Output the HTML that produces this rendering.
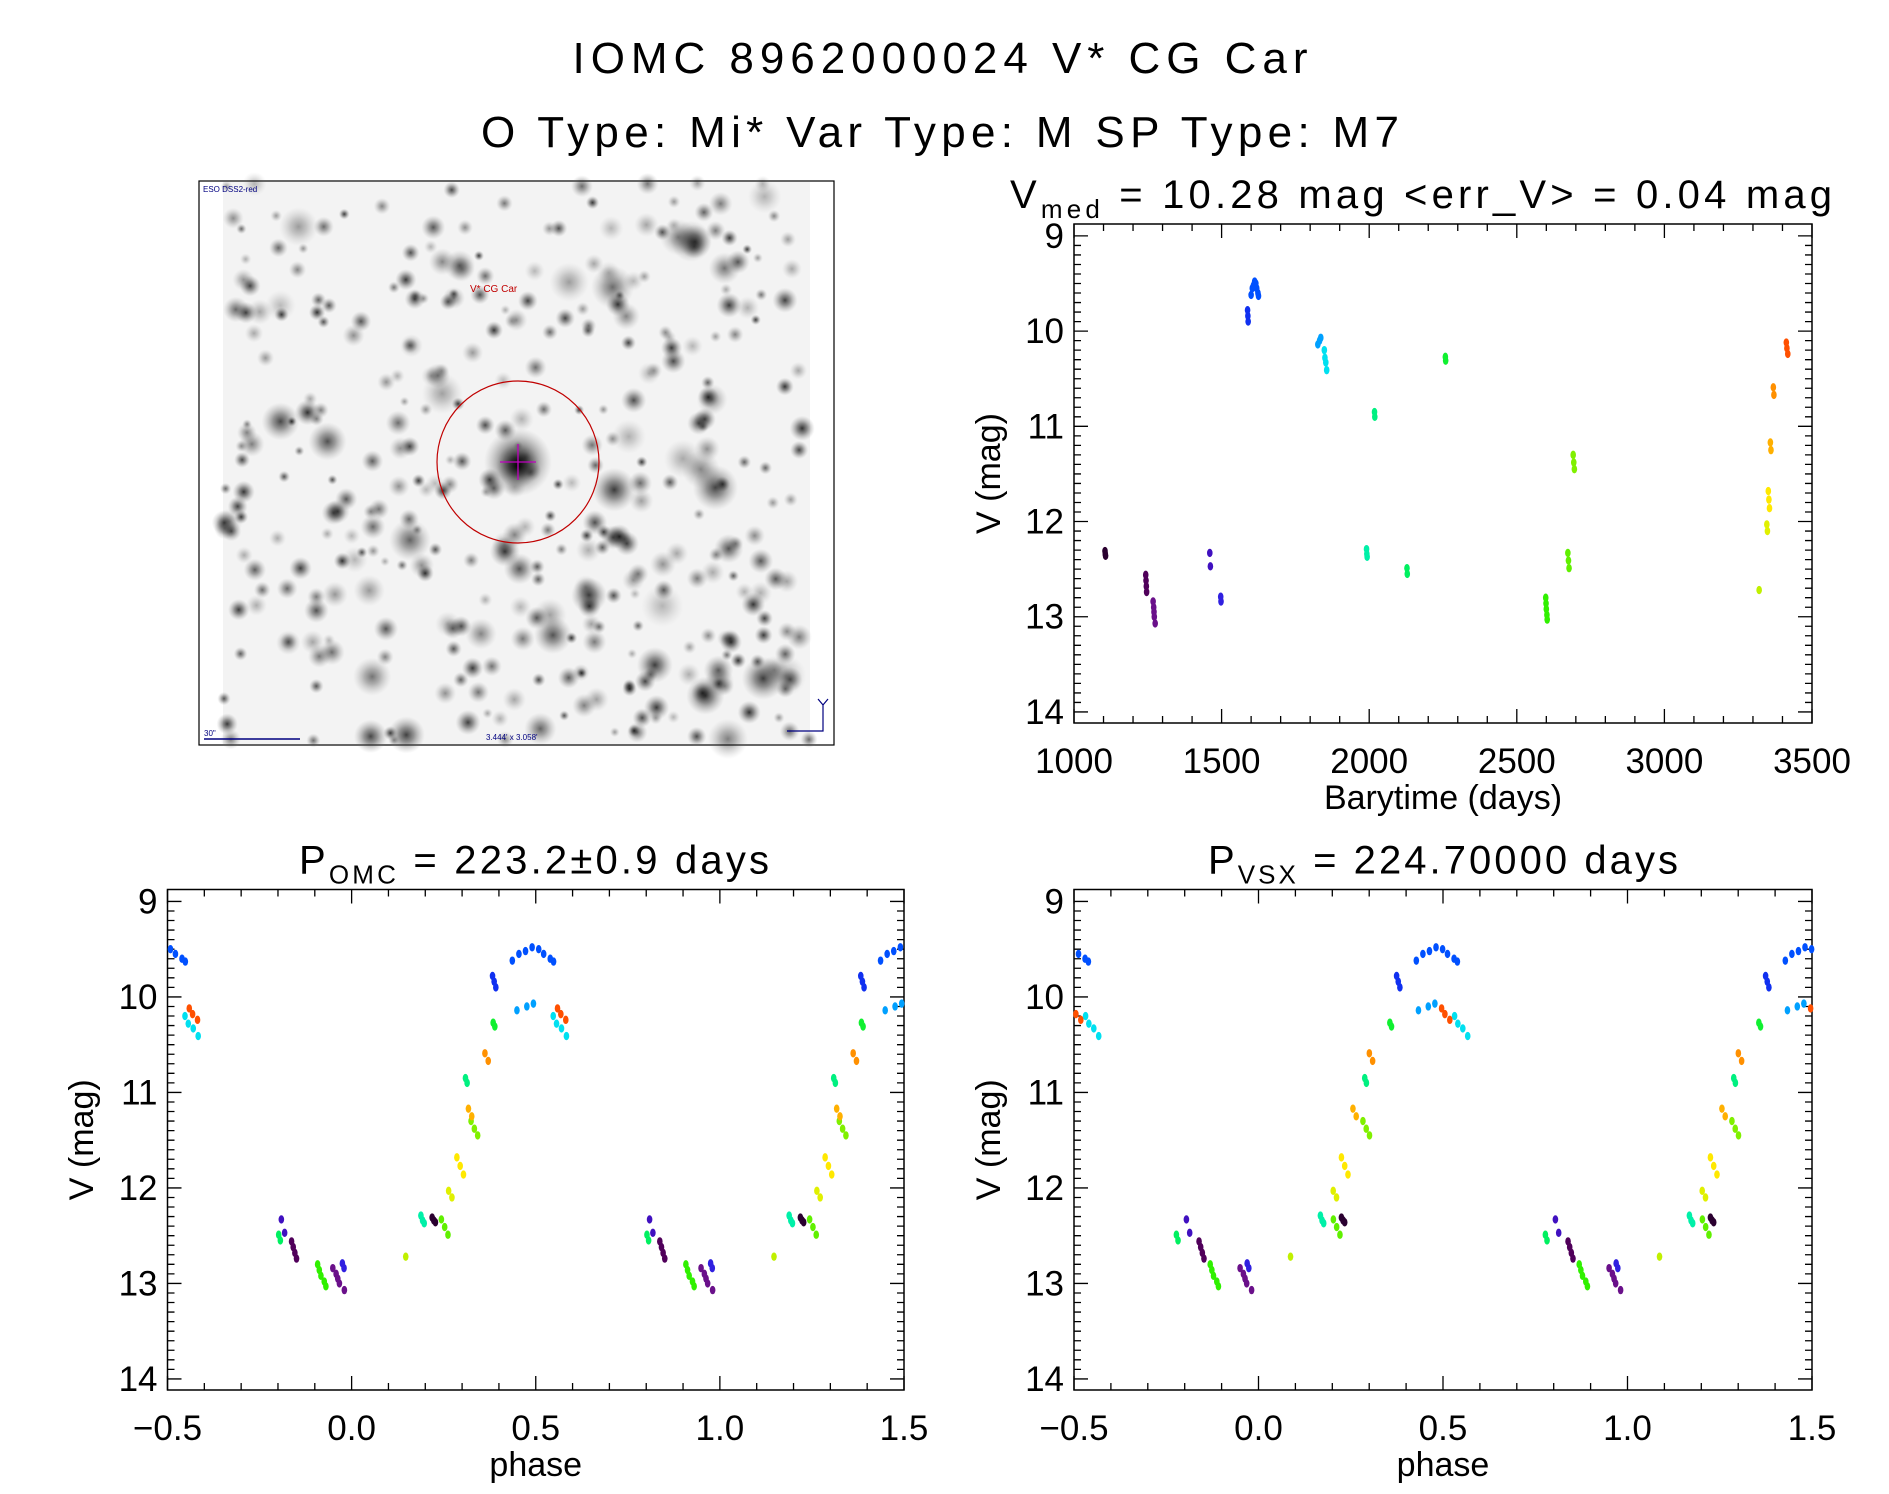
<!DOCTYPE html>
<html><head><meta charset="utf-8"><style>
html,body{margin:0;padding:0;background:#fff;}
svg{display:block;font-family:"Liberation Sans",sans-serif;}
</style></head><body>
<svg id="root" width="1889" height="1494" viewBox="0 0 1889 1494">
<text x="940" y="73" font-size="44" text-anchor="middle" textLength="735" lengthAdjust="spacing">IOMC 8962000024   V* CG Car</text>
<text x="940" y="147" font-size="44" text-anchor="middle" textLength="918" lengthAdjust="spacing">O Type: Mi*  Var Type: M  SP Type: M7</text>
<g id="img"></g>
<g id="p1"></g>
<g id="p2"></g>
<g id="p3"></g>
</svg>
<script>
// ---- data ----
const times = [1105,1106,1107, 1243,1244,1245,1246, 1268,1270,1271,1272,1275, 1460,1462, 1497,1498, 1588,1589,1590,
 1600,1604,1608,1612,1616,1619,1623,1625, 1826,1832,1836, 1848,1850,1853,1856, 1991,1992,1993, 2018,2019, 2128,2129,
 2258,2259, 2598,2599,2600,2602,2603, 2673,2675,2677, 2691,2693,2695, 3321, 3347,3349, 3352,3354,3356, 3359,3361,
 3369,3371, 3413,3415,3418];
const mags = [12.31,12.34,12.36, 12.56,12.62,12.68,12.74, 12.84,12.90,12.95,13.00,13.07, 12.33,12.47, 12.79,12.84, 9.78,9.84,9.90,
 9.62,9.55,9.52,9.48,9.50,9.55,9.60,9.63, 10.14,10.10,10.07, 10.20,10.28,10.33,10.41, 12.29,12.34,12.37, 10.85,10.90, 12.49,12.55,
 10.27,10.31, 12.80,12.86,12.92,12.98,13.03, 12.33,12.41,12.49, 11.30,11.38,11.45, 12.72, 12.03,12.10, 11.68,11.77,11.86, 11.17,11.25,
 10.59,10.67, 10.12,10.18,10.24];
const groups = [0,0,0, 1,1,1,1, 2,2,2,2,2, 3,3, 4,4, 5,5,5, 6,6,6,6,6,6,6,6, 7,7,7, 8,8,8,8, 9,9,9, 10,10, 11,11,
 12,12, 13,13,13,13,13, 14,14,14, 15,15,15, 16, 17,17, 18,18,18, 19,19, 20,20, 21,21,21];
const groupColors = ["#2a0030","#50005a","#6a108a","#4010c0","#3020e0","#1030f0","#0050ff","#00a0ff","#00e0f0","#00f0a8",
 "#00f080","#00f060","#10f030","#30f000","#60f000","#80f000","#c0f000","#e0f000","#ffe800","#ffb000","#ff9000","#ff5000"];
const periodOMC = 223.2, epochOMC = 1056.2;
const periodVSX = 224.7, epochVSX = 1054.5;
const xTicksTime = [1000,1500,2000,2500,3000,3500];
const xTicksPhase = [-0.5,0.0,0.5,1.0,1.5];
const xTickPhaseLabels = ["\u22120.5","0.0","0.5","1.0","1.5"];
const yTicks = [9,10,11,12,13,14];

const NS="http://www.w3.org/2000/svg";
function mk(tag,attrs,parent){const e=document.createElementNS(NS,tag);for(const k in attrs)e.setAttribute(k,attrs[k]);parent.appendChild(e);return e;}

function panel(g,box,xmin,xmax,xMajor,xMinor,xt,xtl,xtitle,title,sub,titleRest,titleX,titleLen,ylabX){
  const ymin=8.875,ymax=14.116;
  const sx=v=>box.l+(v-xmin)/(xmax-xmin)*(box.r-box.l);
  const sy=v=>box.t+(v-ymin)/(ymax-ymin)*(box.b-box.t);
  const fr=mk('rect',{x:box.l,y:box.t,width:box.r-box.l,height:box.b-box.t,fill:'none',stroke:'#000','stroke-width':1.5},g);
  
  
  let d='';
  for(let v=xmin;v<=xmax+1e-9;v+=xMinor){const x=sx(v);const maj=Math.abs(Math.round(v/xMajor)*xMajor-v)<1e-6;const L=maj?14:7;d+=`M${x},${box.b}v${-L}M${x},${box.t}v${L}`;}
  for(let v=9;v<=14.0001;v+=0.1){const y=sy(v);const maj=Math.abs(Math.round(v)-v)<1e-6;const L=maj?14:7;d+=`M${box.l},${y}h${L}M${box.r},${y}h${-L}`;}
  const tk=mk('path',{d:d,stroke:'#000','stroke-width':1.3,fill:'none'},g);
  
  
  xt.forEach((v,i)=>{const t=mk('text',{x:sx(v),y:box.b+50,'font-size':35,'text-anchor':'middle'},g);t.textContent=xtl[i];
    
    });
  yTicks.forEach(v=>{const t=mk('text',{x:box.l-10,y:sy(v)+12,'font-size':35,'text-anchor':'end'},g);t.textContent=String(v);
    
    });
  const xtT=mk('text',{x:(box.l+box.r)/2,y:box.b+86,'font-size':34,'text-anchor':'middle'},g);xtT.textContent=xtitle;
  
  
  const cy=(box.t+box.b)/2;
  const yt=mk('text',{x:ylabX,y:cy,'font-size':34,'text-anchor':'middle',transform:`rotate(-90 ${ylabX} ${cy})`,dy:12},g);yt.textContent='V (mag)';
  
  
  const tt=mk('text',{x:titleX,y:box.t-16,'font-size':40,textLength:titleLen,lengthAdjust:'spacing'},g);
  
  
  const a=mk('tspan',{},tt);a.textContent=title;
  const b=mk('tspan',{'font-size':26,dy:10},tt);b.textContent=sub;
  const c=mk('tspan',{dy:-10},tt);c.textContent=titleRest;
  return {sx,sy};
}
function dot(g,x,y,col){const e=mk('ellipse',{cx:x,cy:y,rx:2.8,ry:4.2,fill:col},g);
  
  }

// light curve
const g1=document.getElementById('p1');
const A=panel(g1,{l:1074,r:1812,t:224,b:723},1000,3500,500,100,xTicksTime,xTicksTime.map(String),'Barytime (days)','V','med',' =  10.28  mag  <err_V>  =  0.04  mag',1010,822,988);
times.forEach((t,i)=>dot(g1,A.sx(t),A.sy(mags[i]),groupColors[groups[i]]));

function phasePanel(id,P,T0,title,sub,rest,tx,tl){
  const g=document.getElementById(id);
  const box=id==='p2'?{l:167.5,r:904,t:889.5,b:1390}:{l:1074,r:1812,t:889.5,b:1390};
  const S=panel(g,box,-0.5,1.5,0.5,0.1,xTicksPhase,xTickPhaseLabels,'phase',title,sub,rest,tx,tl,id==='p2'?81:988);
  times.forEach((t,i)=>{let p=((t-T0)/P)%1;if(p<0)p+=1;
    [p-1,p,p+1].forEach(q=>{if(q>=-0.5&&q<=1.5)dot(g,S.sx(q),S.sy(mags[i]),groupColors[groups[i]]);});});
}
phasePanel('p2',periodOMC,epochOMC,'P','OMC',' =  223.2\u00b10.9  days',299,470);
phasePanel('p3',periodVSX,epochVSX,'P','VSX',' =  224.70000  days',1208,470);

// sky image (decorative)
const gi=document.getElementById('img');
const defs=mk('defs',{},gi);
const rg=mk('radialGradient',{id:'star'},defs);
mk('stop',{offset:'0','stop-color':'#000','stop-opacity':'0.95'},rg);
mk('stop',{offset:'0.4','stop-color':'#222','stop-opacity':'0.6'},rg);
mk('stop',{offset:'1','stop-color':'#888','stop-opacity':'0'},rg);
const box=mk('rect',{x:199,y:181,width:635,height:564,fill:'#fff',stroke:'#000','stroke-width':1.2},gi);


mk('rect',{x:223,y:182,width:587,height:562,fill:'#f3f3f3'},gi);
let seed=7;const rnd=()=>{seed=(seed*16807)%2147483647;return seed/2147483647;};
for(let i=0;i<380;i++){const x=224+rnd()*585,y=183+rnd()*560;const r=rnd()<0.85?5+rnd()*8:11+rnd()*12;
  mk('circle',{cx:x,cy:y,r:r,fill:'url(#star)',opacity:0.25+rnd()*0.6},gi);}
mk('circle',{cx:518,cy:462,r:34,fill:'url(#star)'},gi);
mk('circle',{cx:518,cy:466,r:22,fill:'url(#star)'},gi);
mk('circle',{cx:518,cy:462,r:81,fill:'none',stroke:'#c00000','stroke-width':1.2},gi);
mk('path',{d:'M500,462h36M518,444v36',stroke:'#c000c0','stroke-width':1.3},gi);
const lab=mk('text',{x:470,y:292,'font-size':10,fill:'#c00000'},gi);lab.textContent='V* CG Car';


const src=mk('text',{x:203,y:192,'font-size':8,fill:'#000080'},gi);src.textContent='ESO DSS2-red';


const sc=mk('text',{x:204,y:736,'font-size':8,fill:'#000080'},gi);sc.textContent='30"';


mk('path',{d:'M204,739h96',stroke:'#000080','stroke-width':1.5},gi);
const fov=mk('text',{x:486,y:740,'font-size':8,fill:'#000080'},gi);fov.textContent="3.444' x 3.058'";


mk('path',{d:'M823,705v26h-36M818,699l5,6l5,-6',stroke:'#000080','stroke-width':1.2,fill:'none'},gi);
</script>
</body></html>
